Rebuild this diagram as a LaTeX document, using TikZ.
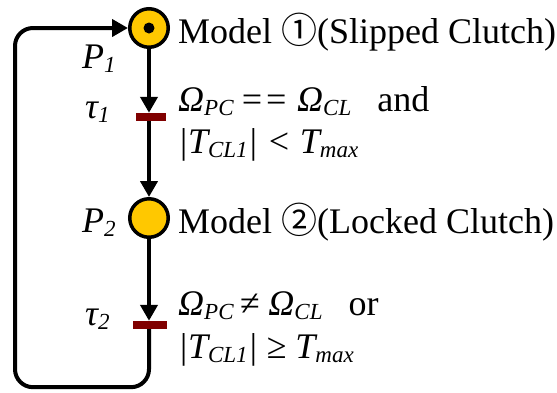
\documentclass[tikz,border=0pt]{standalone}
\usepackage{fontspec}
\setmainfont{Liberation Serif}
\newfontfamily\circfont{Noto Sans CJK SC}
\usetikzlibrary{arrows.meta}
\definecolor{placeyellow}{RGB}{255,200,0}
\definecolor{barred}{RGB}{128,0,0}
\newcommand\subx[1]{\raisebox{-4pt}{\fontsize{23}{23}\selectfont\itshape #1}}
\begin{document}
\begin{tikzpicture}[x=1pt,y=1pt,
  place/.style={circle,draw=black,line width=3.5pt,fill=placeyellow,minimum size=38.5pt,inner sep=0pt},
  trans/.style={rectangle,fill=barred,minimum height=8pt,inner sep=0pt},
  arc/.style={line width=4pt,-{Triangle[length=16pt,width=17pt]}},
  lbl/.style={anchor=base west,inner sep=0pt,font=\fontsize{36}{42}\selectfont}]
\useasboundingbox (0,0) rectangle (557,-392);
\node[place] (p1) at (149,-28) {};
\fill (p1.center) circle (5.5);
\node[place] (p2) at (149,-218) {};
\node[trans,minimum width=30pt] (t1) at (151,-117) {};
\node[trans,minimum width=34pt] (t2) at (150,-325) {};
\draw[arc] (p1.south) -- (p1.south |- t1.north);
\draw[arc] (p1.south |- t1.south) -- (p2.north);
\draw[arc] (p2.south) -- (p2.south |- t2.north);
\draw[arc,rounded corners=18pt] (p2.south |- t2.south) -- ++(0,-58) -| (15,-28) -- (p1.west);
\node[lbl] (lp1) at (82,-68) {\itshape P\subx{1}};
\node[lbl] (lt1) at (85,-118) {\itshape τ\subx{1}};
\node[lbl] (lp2) at (82,-232) {\itshape P\subx{2}};
\node[lbl] (lt2) at (85,-325) {\itshape τ\subx{2}};
\node[lbl] (m1) at (178,-43) {Model {\circfont ①}(Slipped Clutch)};
\node[lbl] (m2) at (178,-233) {Model {\circfont ②}(Locked Clutch)};
\node[lbl] (c1a) at (178,-111) {\itshape Ω\subx{PC}\,== Ω\subx{CL}\upshape\hspace{26pt}and};
\node[lbl] (c1b) at (178,-153) {\itshape |T\subx{CL1}| < T\subx{max}};
\node[lbl] (c2a) at (178,-315) {\itshape Ω\subx{PC}\,≠ Ω\subx{CL}\upshape\hspace{26pt}or};
\node[lbl] (c2b) at (178,-358) {\itshape |T\subx{CL1}| ≥ T\subx{max}};
\end{tikzpicture}
\end{document}
